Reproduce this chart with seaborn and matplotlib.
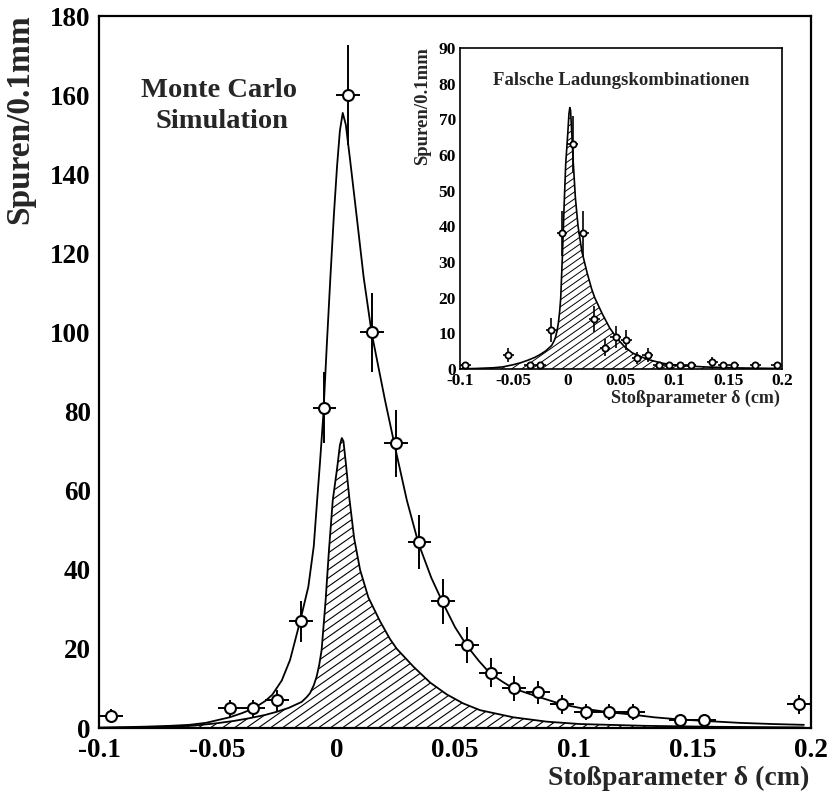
import numpy as np
import pandas as pd
import matplotlib
matplotlib.use("Agg")
import matplotlib.pyplot as plt
import seaborn as sns
from matplotlib.collections import LineCollection
from matplotlib.ticker import MultipleLocator, FixedLocator, FixedFormatter

# ---------------- data ----------------
# main histogram (Monte Carlo), bin centres, counts, errors
main_x = [-0.095, -0.045, -0.035, -0.025, -0.015, -0.005, 0.005, 0.015, 0.025, 0.035, 0.045,
          0.055, 0.065, 0.075, 0.085, 0.095, 0.105, 0.115, 0.125, 0.145, 0.155, 0.195]
main_y = [3, 5, 5, 7, 27, 81, 160, 100, 72, 47, 32, 21, 14, 10, 9, 6, 4, 4, 4, 2, 2, 6]
main_err = [1.7, 2.2, 2.2, 2.6, 5.2, 9.0, 12.6, 10.0, 8.5, 6.9, 5.7, 4.6, 3.7, 3.2, 3.0, 2.4,
            2.0, 2.0, 2.0, 1.4, 1.4, 2.4]
bin_halfwidth = 0.005

# fit curve (total)
fit_x = [-0.0995, -0.09, -0.08, -0.07, -0.062, -0.055, -0.05, -0.045, -0.04, -0.035, -0.03,
         -0.027, -0.023, -0.0195, -0.0153, -0.0118, -0.0095, -0.0081, -0.0069, -0.0055, -0.004,
         -0.0025, -0.001, 0.0003, 0.0015, 0.0027, 0.004, 0.0058, 0.0086, 0.0115, 0.0149,
         0.0205, 0.0247, 0.0297, 0.0346, 0.04, 0.045, 0.05, 0.055, 0.06, 0.0648, 0.07, 0.0746,
         0.0844, 0.095, 0.1041, 0.1146, 0.1245, 0.134, 0.144, 0.1547, 0.17, 0.184, 0.197]
fit_y = [0.1, 0.2, 0.35, 0.55, 0.8, 1.3, 2.0, 2.7, 3.7, 4.9, 6.8,
         8.4, 12.0, 17.2, 26.9, 35.7, 46.0, 57.5, 67.0, 79.0, 97.0,
         114.0, 130.0, 142.0, 151.0, 155.5, 152.5, 143.6, 129.2, 114.0, 99.8,
         82.9, 71.1, 57.6, 46.7, 38.0, 31.5, 25.5, 20.8, 17.0, 13.8, 11.7, 10.0,
         8.0, 6.0, 4.9, 4.0, 3.4, 2.7, 2.2, 1.8, 1.3, 1.0, 0.8]

# background curve (false charge combinations), hatched
bg_x = [-0.0995, -0.085, -0.0688, -0.06, -0.0504, -0.043, -0.0364, -0.03, -0.0251, -0.02,
        -0.0146, -0.0125, -0.0111, -0.0095, -0.0083, -0.0072, -0.0062, -0.0045, -0.0031,
        -0.0015, 0.0004, 0.0015, 0.0023, 0.003, 0.004, 0.0055, 0.0075, 0.01, 0.0135, 0.0184,
        0.0226, 0.0255, 0.0325, 0.0395, 0.0465, 0.0535, 0.0606, 0.0746, 0.0887, 0.1027,
        0.13, 0.16, 0.197]
bg_y = [0.05, 0.15, 0.35, 0.6, 1.2, 1.8, 2.5, 3.3, 4.1, 5.1,
        6.6, 7.8, 8.8, 10.8, 13.0, 16.0, 19.7, 32.4, 45.0,
        57.6, 66.0, 71.5, 73.3, 72.5, 67.0, 58.0, 48.0, 40.0, 33.0, 27.0,
        22.5, 20.0, 15.5, 11.5, 8.5, 6.2, 4.5, 2.7, 1.6, 1.0,
        0.55, 0.3, 0.15]

# inset histogram (Falsche Ladungskombinationen)
ins_x = [-0.095, -0.055, -0.035, -0.025, -0.015, -0.005, 0.005, 0.015, 0.025, 0.035, 0.045,
         0.055, 0.065, 0.075, 0.085, 0.095, 0.105, 0.115, 0.135, 0.145, 0.155, 0.175, 0.195]
ins_y = [1, 4, 1, 1, 11, 38, 63, 38, 14, 6, 9, 8, 3, 4, 1, 1, 1, 1, 2, 1, 1, 1, 1]
ins_err = [1.0, 2.0, 1.0, 1.0, 3.3, 6.2, 7.9, 6.2, 3.7, 2.4, 3.0, 2.8, 1.7, 2.0, 1.0, 1.0,
           1.0, 1.0, 1.4, 1.0, 1.0, 1.0, 1.0]

# ticks
x_ticks = [-0.1, -0.05, 0, 0.05, 0.1, 0.15, 0.2]
x_ticklabels = ["-0.1", "-0.05", "0", "0.05", "0.1", "0.15", "0.2"]
main_yticks = [0, 20, 40, 60, 80, 100, 120, 140, 160, 180]
ins_yticks = [0, 10, 20, 30, 40, 50, 60, 70, 80, 90]

# ---------------- style ----------------
sns.set_style("white")
plt.rcParams["font.family"] = ["Liberation Serif", "DejaVu Serif"]
plt.rcParams["font.weight"] = "bold"
plt.rcParams["axes.unicode_minus"] = False

W, H = 828, 791
fig = plt.figure(figsize=(W / 100, H / 100), dpi=100)


def px_axes(left, top, right, bottom):
    return [left / W, 1 - bottom / H, (right - left) / W, (bottom - top) / H]


def add_hatch(ax, xs, ys, spacing_px, angle_deg, lw):
    coll = ax.fill_between(xs, ys, 0, facecolor="none", edgecolor="none")
    path = coll.get_paths()[0]
    bb = ax.get_position()
    wpx, hpx = bb.width * W, bb.height * H
    s = np.tan(np.radians(angle_deg)) * wpx / hpx
    step = spacing_px / wpx
    segs = []
    for x0 in np.arange(-1.0 / s - step, 1.0 + step, step):
        segs.append([(x0 - 0.2 / s, -0.2), (x0 + 1.2 / s, 1.2)])
    lc = LineCollection(segs, colors="black", linewidths=lw, transform=ax.transAxes, zorder=2)
    lc.set_clip_path(path, ax.transData)
    ax.add_collection(lc)


def style_axes(ax, ymax, ymaj, ymin, fs, maj_len, min_len, spine_lw):
    ax.set_xlim(-0.1, 0.2)
    ax.set_ylim(0, ymax)
    ax.xaxis.set_major_locator(FixedLocator(x_ticks))
    ax.xaxis.set_major_formatter(FixedFormatter(x_ticklabels))
    ax.xaxis.set_minor_locator(MultipleLocator(0.01))
    ax.yaxis.set_major_locator(FixedLocator(ymaj))
    ax.yaxis.set_minor_locator(MultipleLocator(ymin))
    ax.tick_params(which="both", direction="in", top=False, right=False,
                   labelsize=fs, width=1.0, colors="black")
    ax.tick_params(which="major", length=maj_len)
    ax.tick_params(which="minor", length=min_len)
    for lab in ax.get_xticklabels() + ax.get_yticklabels():
        lab.set_fontweight("bold")
    for sp in ax.spines.values():
        sp.set_linewidth(spine_lw)
        sp.set_color("black")
        sp.set_visible(True)
    ax.set_xlabel("")
    ax.set_ylabel("")


# ---------------- main panel ----------------
ax = fig.add_axes(px_axes(99, 16, 811, 728))
add_hatch(ax, bg_x, bg_y, 12, 35, 0.8)
sns.lineplot(x=bg_x, y=bg_y, sort=False, estimator=None, color="black", lw=1.3, ax=ax, zorder=3)
sns.lineplot(x=fit_x, y=fit_y, sort=False, estimator=None, color="black", lw=1.3, ax=ax, zorder=3)
ax.errorbar(main_x, main_y, yerr=main_err, xerr=bin_halfwidth, fmt="none",
            ecolor="black", elinewidth=1.4, capsize=0, zorder=4)
sns.scatterplot(x=main_x, y=main_y, marker="o", s=62, facecolor="white",
                edgecolor="black", linewidth=1.5, ax=ax, zorder=5)
style_axes(ax, 180, main_yticks, 5, 19.5, 13, 7, 1.6)
ax.tick_params(axis="x", pad=7)
ax.tick_params(axis="y", pad=6)

fig.text(219 / W, 1 - 97 / H, "Monte Carlo", ha="center", va="baseline",
         fontsize=20.5, fontweight="bold")
fig.text(222 / W, 1 - 128 / H, "Simulation", ha="center", va="baseline",
         fontsize=20.5, fontweight="bold")
fig.text(20 / W, 1 - 14 / H, "Spuren/0.1mm", rotation=90, ha="center", va="top",
         fontsize=24, fontweight="bold")
fig.text(809 / W, 1 - 778 / H, "Stoßparameter δ (cm)", ha="right", va="center",
         fontsize=20, fontweight="bold")

# ---------------- inset ----------------
ins = fig.add_axes(px_axes(460, 48, 782, 369))
ins.set_facecolor("white")
add_hatch(ins, bg_x, bg_y, 10, 35, 0.7)
sns.lineplot(x=bg_x, y=bg_y, sort=False, estimator=None, color="black", lw=1.2, ax=ins, zorder=3)
ins.errorbar(ins_x, ins_y, yerr=ins_err, xerr=bin_halfwidth, fmt="none",
             ecolor="black", elinewidth=1.2, capsize=0, zorder=4)
sns.scatterplot(x=ins_x, y=ins_y, marker="o", s=20, facecolor="white",
                edgecolor="black", linewidth=1.3, ax=ins, zorder=5)
style_axes(ins, 90, ins_yticks, 2, 12.5, 7, 4, 1.2)
ins.tick_params(axis="x", pad=3)
ins.tick_params(axis="y", pad=3)
ins.text(0.5, 0.9, "Falsche Ladungskombinationen", transform=ins.transAxes,
         ha="center", va="center", fontsize=13.5, fontweight="bold")
fig.text(423 / W, 1 - 47 / H, "Spuren/0.1mm", rotation=90, ha="center", va="top",
         fontsize=13.5, fontweight="bold")
fig.text(780 / W, 1 - 398 / H, "Stoßparameter δ (cm)", ha="right", va="center",
         fontsize=13, fontweight="bold")

fig.savefig("out.png", dpi=100)
